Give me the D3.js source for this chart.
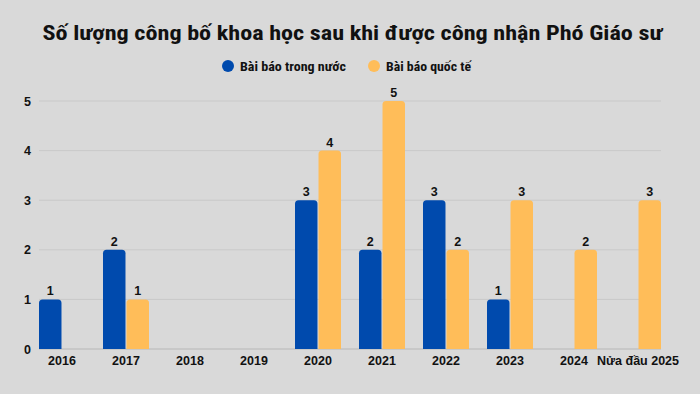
<!DOCTYPE html>
<html><head><meta charset="utf-8">
<script src="https://cdn.jsdelivr.net/npm/d3@7"></script>
<style>
html,body{margin:0;padding:0;background:#d9d9d9;}
svg{display:block;}
</style></head>
<body>
<svg id="chart" width="700" height="394"></svg>
<script>
const categories = ["2016","2017","2018","2019","2020","2021","2022","2023","2024","Nửa đầu 2025"];
const domestic = [1,2,0,0,3,2,3,1,0,0];
const international = [0,1,0,0,4,5,2,3,2,3];
const seriesNames = ["Bài báo trong nước","Bài báo quốc tế"];
const yTicks = [0,1,2,3,4,5];
const colors = ["#004AAD","#FFBD59"];
const title = "Số lượng công bố khoa học sau khi được công nhận Phó Giáo sư";

const svg = d3.select("#chart");
const W = 700, H = 394;
svg.append("rect").attr("width",W).attr("height",H).attr("fill","#d9d9d9");

const condensed = "'Liberation Sans Narrow','Roboto Condensed','Arial Narrow',sans-serif";
const sans = "'Liberation Sans',Arial,sans-serif";

svg.append("text").attr("x",42.5).attr("y",39.5)
  .attr("font-family",condensed).attr("font-weight","bold").attr("font-size",20)
  .attr("textLength",620).attr("lengthAdjust","spacingAndGlyphs")
  .attr("fill","#111").text(title);

// legend
const leg = svg.append("g");
const legItems = [{x:228, tx:240, w:106},{x:374, tx:386, w:85}];
legItems.forEach((d,i)=>{
  leg.append("circle").attr("cx",d.x).attr("cy",66).attr("r",6).attr("fill",colors[i]);
  leg.append("text").attr("x",d.tx).attr("y",70.5).attr("font-family",condensed)
    .attr("font-weight","bold").attr("font-size",12.5)
    .attr("textLength",d.w).attr("lengthAdjust","spacingAndGlyphs")
    .attr("fill","#111").text(seriesNames[i]);
});

const x = d3.scaleBand().domain(categories).range([39,661]).paddingInner(18/64).paddingOuter(0);
const xs = d3.scaleBand().domain([0,1]).range([0,x.bandwidth()]).paddingInner(2/46);
const y = d3.scaleLinear().domain([0,5]).range([349,101]);

// grid
svg.append("g").selectAll("line").data(yTicks).join("line")
  .attr("x1",39).attr("x2",661).attr("y1",d=>y(d)).attr("y2",d=>y(d))
  .attr("stroke",d=>d===0?"#c2c2c2":"#c9c9c9").attr("stroke-width",d=>d===0?1.5:1);

// y axis
const yAxis = d3.axisLeft(y).tickValues(yTicks).tickFormat(d3.format("d")).tickSize(0).tickPadding(0);
const ya = svg.append("g").attr("transform","translate(31,0)").call(yAxis);
ya.select(".domain").remove();
ya.selectAll("text").attr("font-family",sans).attr("font-weight","bold").attr("font-size",12.5).attr("fill","#111");

// x axis
const xAxis = d3.axisBottom(x).tickSize(0).tickPadding(0);
const xa = svg.append("g").attr("transform","translate(0,356)").call(xAxis);
xa.select(".domain").remove();
xa.selectAll("text").attr("font-family",sans).attr("font-weight","bold").attr("font-size",12.5).attr("fill","#111");

function roundTop(x0,y0,w,h,r){
  r=Math.min(r,h,w/2);
  return `M${x0},${y0+h}V${y0+r}Q${x0},${y0} ${x0+r},${y0}H${x0+w-r}Q${x0+w},${y0} ${x0+w},${y0+r}V${y0+h}Z`;
}

const data = [];
categories.forEach((c,i)=>{
  [domestic[i],international[i]].forEach((v,s)=>{ if(v>0) data.push({c,s,v}); });
});

const bars = svg.append("g");
bars.selectAll("path").data(data).join("path")
  .attr("d",d=>roundTop(x(d.c)+xs(d.s), y(d.v), xs.bandwidth(), y(0)-y(d.v), 3.5))
  .attr("fill",d=>colors[d.s]);

bars.selectAll("text").data(data).join("text")
  .attr("x",d=>x(d.c)+xs(d.s)+xs.bandwidth()/2).attr("y",d=>y(d.v)-4)
  .attr("text-anchor","middle").attr("font-family",sans).attr("font-weight","bold")
  .attr("font-size",12.5).attr("fill","#111").text(d=>d.v);
</script>
</body></html>
